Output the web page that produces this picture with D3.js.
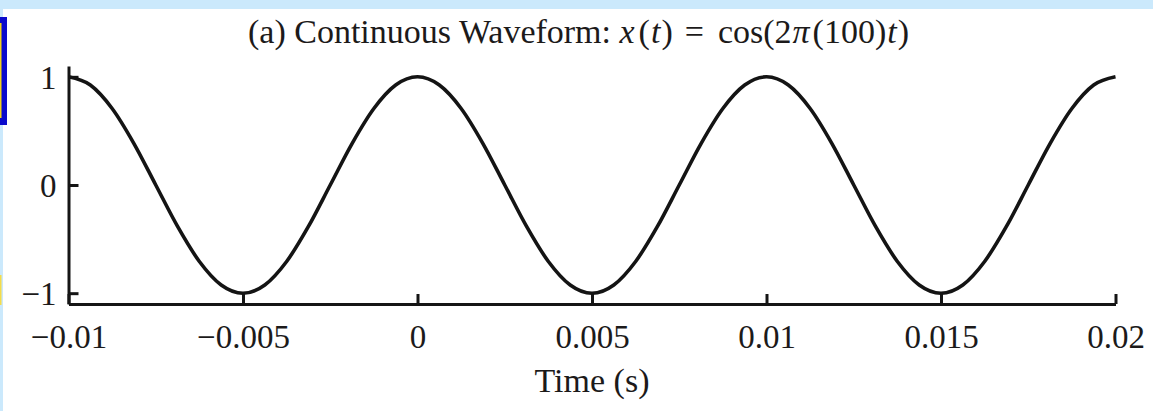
<!DOCTYPE html>
<html>
<head>
<meta charset="utf-8">
<script src="https://cdn.jsdelivr.net/npm/d3@7"></script>
<style>
  html, body { margin: 0; padding: 0; background: #ffffff; }
  svg { display: block; }
  text { font-family: "Liberation Serif", "DejaVu Serif", serif; fill: #1c1a1a; }
</style>
</head>
<body>
<svg id="chart" width="1153" height="411"></svg>
<script>
// Samples of the waveform x(t), one every 0.625 ms
const timeSamples = [
  -0.01, -0.009375, -0.00875, -0.008125, -0.0075, -0.006875, -0.00625, -0.005625,
  -0.005, -0.004375, -0.00375, -0.003125, -0.0025, -0.001875, -0.00125, -0.000625,
  0, 0.000625, 0.00125, 0.001875, 0.0025, 0.003125, 0.00375, 0.004375,
  0.005, 0.005625, 0.00625, 0.006875, 0.0075, 0.008125, 0.00875, 0.009375,
  0.01, 0.010625, 0.01125, 0.011875, 0.0125, 0.013125, 0.01375, 0.014375,
  0.015, 0.015625, 0.01625, 0.016875, 0.0175, 0.018125, 0.01875, 0.019375, 0.02
];
const signalValues = [
  1, 0.924, 0.707, 0.383, 0, -0.383, -0.707, -0.924,
  -1, -0.924, -0.707, -0.383, 0, 0.383, 0.707, 0.924,
  1, 0.924, 0.707, 0.383, 0, -0.383, -0.707, -0.924,
  -1, -0.924, -0.707, -0.383, 0, 0.383, 0.707, 0.924,
  1, 0.924, 0.707, 0.383, 0, -0.383, -0.707, -0.924,
  -1, -0.924, -0.707, -0.383, 0, 0.383, 0.707, 0.924, 1
];
const xTickValues = [-0.01, -0.005, 0, 0.005, 0.01, 0.015, 0.02];
const xTickLabels = ["\u22120.01", "\u22120.005", "0", "0.005", "0.01", "0.015", "0.02"];
const yTickValues = [1, 0, -1];
const yTickLabels = ["1", "0", "\u22121"];

const svg = d3.select("#chart");
const W = 1153, H = 411;

// page frame: light blue band on top and left, plus small side markers
svg.append("rect").attr("x", 0).attr("y", 0).attr("width", W).attr("height", H).attr("fill", "#ffffff");
svg.append("rect").attr("x", 0).attr("y", 0).attr("width", W).attr("height", 9).attr("fill", "#cbe9fc");
svg.append("rect").attr("x", 0).attr("y", 0).attr("width", 3).attr("height", H).attr("fill", "#cbe9fc");
svg.append("rect").attr("x", 0).attr("y", 17).attr("width", 7).attr("height", 108).attr("fill", "#0a0acc");
svg.append("rect").attr("x", 0).attr("y", 23).attr("width", 1.5).attr("height", 95).attr("fill", "#f2d21a");
svg.append("rect").attr("x", 0).attr("y", 275).attr("width", 1.5).attr("height", 30).attr("fill", "#f5dc4a");

const x = d3.scaleLinear().domain([-0.01, 0.02]).range([68.5, 1115.5]);
const y = d3.scaleLinear().domain([-1.1, 1.1]).range([304, 66]);

// x axis with inward ticks
const xAxis = svg.append("g")
  .attr("transform", `translate(0,${y(-1.1)})`)
  .call(d3.axisBottom(x).tickValues(xTickValues)
    .tickFormat((d, i) => xTickLabels[i]).tickSize(-10).tickSizeOuter(0));
// y axis with inward ticks
const yAxis = svg.append("g")
  .attr("transform", `translate(${x(-0.01)},0)`)
  .call(d3.axisLeft(y).tickValues(yTickValues)
    .tickFormat((d, i) => yTickLabels[i]).tickSize(-10).tickSizeOuter(0));

[xAxis, yAxis].forEach(g => {
  g.attr("font-family", null).attr("font-size", null);
  g.select(".domain").attr("stroke", "#151515").attr("stroke-width", 3);
  g.selectAll(".tick line").attr("stroke", "#151515").attr("stroke-width", 3);
  g.selectAll(".tick text").style("font-size", "33px").attr("fill", "#1c1a1a");
});
xAxis.selectAll(".tick text").attr("y", 44).attr("dy", 0);
yAxis.selectAll(".tick text").attr("x", -12).attr("dy", "0.34em");

// waveform
const line = d3.line()
  .x((d, i) => x(timeSamples[i]))
  .y(d => y(d))
  .curve(d3.curveMonotoneX);
svg.append("path")
  .datum(signalValues)
  .attr("d", line)
  .attr("fill", "none")
  .attr("stroke", "#141414")
  .attr("stroke-width", 3.6)
  .attr("stroke-linejoin", "round");

// title, with the formula set in math style
const title = svg.append("text")
  .attr("x", 248).attr("y", 43)
  .attr("text-anchor", "start")
  .style("font-size", "34px");
const parts = [
  ["(a) Continuous Waveform: ", false, 0], ["x", true, 0], ["(", false, 4], ["t", true, 1],
  [")", false, 1], ["=", false, 12], ["cos(2", false, 14], ["\u03c0", true, 1],
  ["(100)", false, 3], ["t", true, 1], [")", false, 1]
];
parts.forEach(([s, it, gap]) => {
  title.append("tspan").attr("dx", gap).text(s).style("font-style", it ? "italic" : "normal");
});

// axis label
svg.append("text")
  .attr("x", 592).attr("y", 392)
  .attr("text-anchor", "middle")
  .style("font-size", "34px")
  .text("Time (s)");
</script>
</body>
</html>
